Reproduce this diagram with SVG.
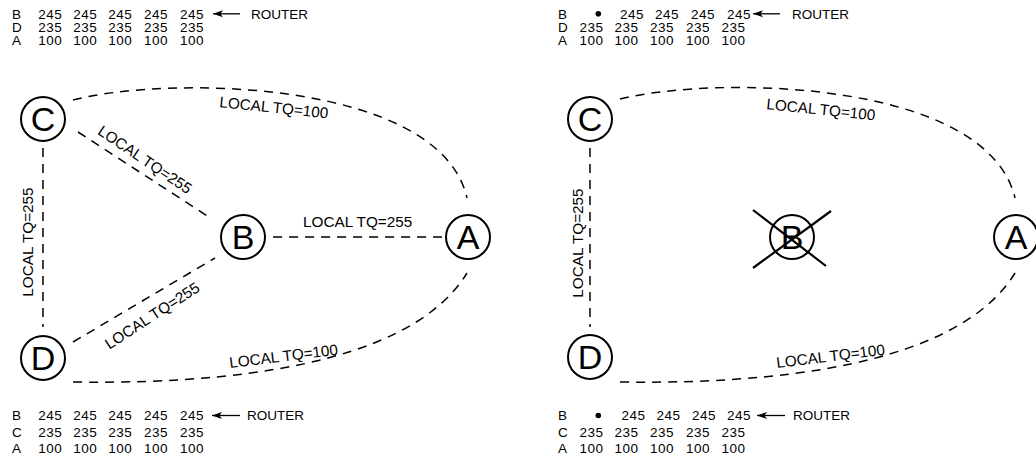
<svg xmlns="http://www.w3.org/2000/svg" width="1036" height="461" viewBox="0 0 1036 461">
<style>
  .tbl { font-family: "Liberation Sans", Arial, sans-serif; font-size: 13.5px; fill: #000; }
  .num { letter-spacing: 0.5px; }
  .lbl { font-family: "Liberation Sans", Arial, sans-serif; font-size: 15.3px; fill: #000; }
  .node circle { fill: #fff; stroke: #000; stroke-width: 2; }
  .node text { font-family: "Liberation Sans", Arial, sans-serif; font-size: 34px; fill: #000; text-anchor: middle; }
  .conn { fill: none; stroke: #000; stroke-width: 1.5; stroke-dasharray: 9 7; }
  .arr { stroke: #000; stroke-width: 1.3; }
  .cross { stroke: #000; stroke-width: 2.2; }
</style>
<defs>
  <marker id="ah" markerUnits="userSpaceOnUse" markerWidth="11" markerHeight="8" refX="10" refY="4" orient="auto">
    <path d="M0,0.5 L10,4 L0,7.5 L2.5,4 Z" fill="#000"/>
  </marker>
</defs>

<!-- connectors -->
<g id="connectors">
  <!-- left -->
  <path class="conn" d="M73,100 C170,75 440,80 467,198"/>
  <path class="conn" d="M73,382 C280,385 420,350 467,273"/>
  <line class="conn" x1="78" y1="132" x2="212" y2="219"/>
  <line class="conn" x1="73" y1="342" x2="215" y2="258"/>
  <line class="conn" x1="273" y1="237" x2="442" y2="237"/>
  <line class="conn" x1="43" y1="148" x2="43" y2="327"/>
  <!-- right -->
  <path class="conn" d="M620,99 C717,75 987,80 1015,198"/>
  <path class="conn" d="M620,382 C827,385 968,350 1015,273"/>
  <line class="conn" x1="590" y1="148" x2="590" y2="327"/>
</g>

<!-- connector labels -->
<g id="labels">
  <text class="lbl" transform="translate(219,107) rotate(6)">LOCAL TQ=100</text>
  <text class="lbl" x="303" y="227">LOCAL TQ=255</text>
  <text class="lbl" text-anchor="middle" transform="translate(142,164) rotate(34)">LOCAL TQ=255</text>
  <text class="lbl" text-anchor="middle" transform="translate(155,320) rotate(-33)">LOCAL TQ=255</text>
  <text class="lbl" transform="translate(230,368) rotate(-7)">LOCAL TQ=100</text>
  <text class="lbl" text-anchor="middle" transform="translate(33,242) rotate(-90)">LOCAL TQ=255</text>

  <text class="lbl" transform="translate(766,109) rotate(6)">LOCAL TQ=100</text>
  <text class="lbl" transform="translate(777,368) rotate(-7)">LOCAL TQ=100</text>
  <text class="lbl" text-anchor="middle" transform="translate(583,243) rotate(-90)">LOCAL TQ=255</text>
</g>

<!-- left nodes -->
<g id="node-C-left" class="node"><circle cx="43" cy="119" r="22"/><text x="43" y="131">C</text></g>
<g id="node-B-left" class="node"><circle cx="243" cy="237" r="22"/><text x="243" y="249">B</text></g>
<g id="node-A-left" class="node"><circle cx="468" cy="237" r="22"/><text x="468" y="249">A</text></g>
<g id="node-D-left" class="node"><circle cx="43" cy="358" r="22"/><text x="43" y="370">D</text></g>

<!-- right nodes -->
<g id="node-C-right" class="node"><circle cx="590" cy="119" r="22"/><text x="590" y="131">C</text></g>
<g id="node-B-right" class="node"><circle cx="792" cy="237" r="22"/><text x="792" y="249">B</text>
  <line class="cross" x1="753" y1="210" x2="826" y2="266"/>
  <line class="cross" x1="831" y1="211" x2="753" y2="268"/>
</g>
<g id="node-A-right" class="node"><circle cx="1016" cy="237" r="22"/><text x="1016" y="249">A</text></g>
<g id="node-D-right" class="node"><circle cx="590" cy="357" r="22"/><text x="590" y="369">D</text></g>

<!-- table top-left -->
<g id="table-top-left" class="tbl">
  <text x="12" y="18.5">B</text>
  <text class="num" y="18.5"><tspan x="38.3">245</tspan><tspan x="73.3">245</tspan><tspan x="108.3">245</tspan><tspan x="144">245</tspan><tspan x="180">245</tspan></text>
  <line class="arr" x1="240" y1="13.8" x2="213" y2="13.8" marker-end="url(#ah)"/>
  <text x="251" y="18.5">ROUTER</text>
  <text x="12" y="31.8">D</text>
  <text class="num" y="31.8"><tspan x="38.3">235</tspan><tspan x="73.3">235</tspan><tspan x="108.3">235</tspan><tspan x="144">235</tspan><tspan x="180">235</tspan></text>
  <text x="12" y="45">A</text>
  <text class="num" y="45"><tspan x="38.3">100</tspan><tspan x="73.3">100</tspan><tspan x="108.3">100</tspan><tspan x="144">100</tspan><tspan x="180">100</tspan></text>
</g>

<!-- table bottom-left -->
<g id="table-bottom-left" class="tbl">
  <text x="12" y="420">B</text>
  <text class="num" y="420"><tspan x="38.3">245</tspan><tspan x="73.3">245</tspan><tspan x="108.3">245</tspan><tspan x="144">245</tspan><tspan x="180">245</tspan></text>
  <line class="arr" x1="240" y1="415.5" x2="212" y2="415.5" marker-end="url(#ah)"/>
  <text x="247" y="420">ROUTER</text>
  <text x="12" y="436.5">C</text>
  <text class="num" y="436.5"><tspan x="38.3">235</tspan><tspan x="73.3">235</tspan><tspan x="108.3">235</tspan><tspan x="144">235</tspan><tspan x="180">235</tspan></text>
  <text x="12" y="453">A</text>
  <text class="num" y="453"><tspan x="38.3">100</tspan><tspan x="73.3">100</tspan><tspan x="108.3">100</tspan><tspan x="144">100</tspan><tspan x="180">100</tspan></text>
</g>

<!-- table top-right -->
<g id="table-top-right" class="tbl">
  <text x="558" y="18.5">B</text>
  <circle cx="598.3" cy="13.8" r="2.8" fill="#000"/>
  <text class="num" y="18.5"><tspan x="620">245</tspan><tspan x="655">245</tspan><tspan x="691">245</tspan><tspan x="727">245</tspan></text>
  <line class="arr" x1="780" y1="13.8" x2="753" y2="13.8" marker-end="url(#ah)"/>
  <text x="792" y="18.5">ROUTER</text>
  <text x="558" y="31.8">D</text>
  <text class="num" y="31.8"><tspan x="579.5">235</tspan><tspan x="614.5">235</tspan><tspan x="650">235</tspan><tspan x="686">235</tspan><tspan x="721.5">235</tspan></text>
  <text x="558" y="45">A</text>
  <text class="num" y="45"><tspan x="579.5">100</tspan><tspan x="614.5">100</tspan><tspan x="650">100</tspan><tspan x="686">100</tspan><tspan x="721.5">100</tspan></text>
</g>

<!-- table bottom-right -->
<g id="table-bottom-right" class="tbl">
  <text x="558" y="420">B</text>
  <circle cx="598.3" cy="415.5" r="2.8" fill="#000"/>
  <text class="num" y="420"><tspan x="621.5">245</tspan><tspan x="656.5">245</tspan><tspan x="692">245</tspan><tspan x="727">245</tspan></text>
  <line class="arr" x1="785" y1="415.5" x2="757" y2="415.5" marker-end="url(#ah)"/>
  <text x="793" y="420">ROUTER</text>
  <text x="558" y="436.5">C</text>
  <text class="num" y="436.5"><tspan x="579.5">235</tspan><tspan x="614.5">235</tspan><tspan x="650">235</tspan><tspan x="686">235</tspan><tspan x="721.5">235</tspan></text>
  <text x="558" y="453">A</text>
  <text class="num" y="453"><tspan x="579.5">100</tspan><tspan x="614.5">100</tspan><tspan x="650">100</tspan><tspan x="686">100</tspan><tspan x="721.5">100</tspan></text>
</g>
</svg>
